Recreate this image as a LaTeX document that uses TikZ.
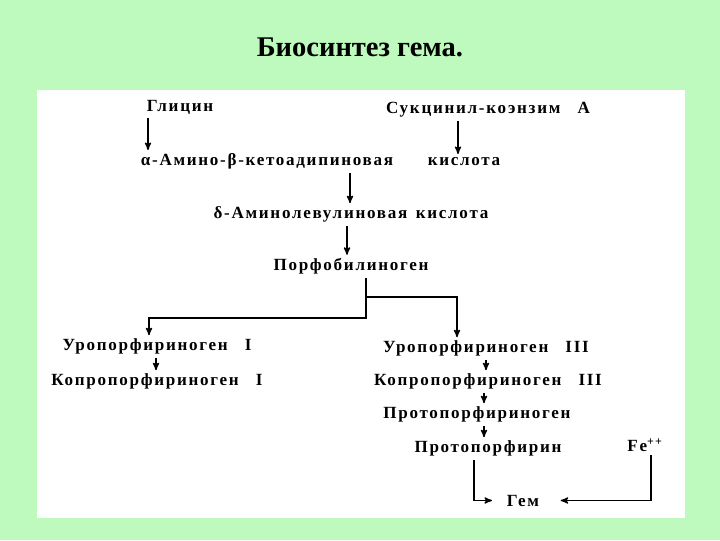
\documentclass[tikz,border=0pt]{standalone}
\usepackage{fontspec}
\setmainfont{Liberation Serif}
\newfontfamily\scanfont[LetterSpace=10]{Liberation Serif}
\usetikzlibrary{arrows}
\definecolor{slidegreen}{RGB}{190,250,190}

\tikzset{
	lbl/.style = {inner sep = 0pt, anchor = base, font = \scanfont\bfseries\fontsize{12.8}{14}\selectfont},
	flow/.style = {->, >=stealth', line width = 1pt, shorten <= 3pt, shorten >= 2pt},
	branch/.style = {->, >=stealth', line width = 1pt, shorten >= 2pt}
}

\begin{document}
\begin{tikzpicture}[x = 0.75pt, y = -0.75pt]
	\fill[slidegreen] (0,0) rectangle (720,540);
	\fill[white] (37,90) rectangle (685,518);
	
	\node[anchor = base, font = \bfseries\fontsize{21.4}{24}\selectfont] (title) at (360,56) {Биосинтез гема.};
	
	\node[lbl] (gly) at (180,111) {Глицин};
	\node[lbl] (suc) at (488,113) {Сукцинил-коэнзим\quad А};
	\node[lbl] (ami) at (267,165) {α-Амино-β-кетоадипиновая};
	\node[lbl] (kis) at (464,165) {кислота};
	\node[lbl] (ala) at (351,218) {δ-Аминолевулиновая\enspace кислота};
	\node[lbl] (pbg) at (351,270) {Порфобилиноген};
	\node[lbl] (uro1) at (157,350) {Уропорфириноген\quad I};
	\node[lbl] (uro3) at (486,352) {Уропорфириноген\quad III};
	\node[lbl] (kop1) at (157,385) {Копропорфириноген\quad I};
	\node[lbl] (kop3) at (488,385) {Копропорфириноген\quad III};
	\node[lbl] (ppg) at (477,418) {Протопорфириноген};
	\node[lbl] (ppn) at (488,452) {Протопорфирин};
	\node[lbl] (fe) at (645,451) {Fe\textsuperscript{++}};
	\node[lbl] (hem) at (523,506) {Гем};
	
	\draw[flow] (gly.south -| 148,0) -- (ami.north -| 148,0);
	\draw[flow] (suc.south -| 458,0) -- (kis.north -| 458,0);
	\draw[flow] (ami.south -| 350,0) -- (ala.north -| 350,0);
	\draw[flow] (ala.south -| 347,0) -- (pbg.north -| 347,0);
	
	\draw[flow] (pbg.south -| 366,0) |- (149,318) -- (uro1.north -| 149,0);
	\draw[branch] (366,297) -| (uro3.north -| 457,0);
	
	\draw[flow] (uro1.south -| 156,0) -- (kop1.north -| 156,0);
	\draw[flow] (uro3.south -| 486,0) -- (kop3.north -| 486,0);
	\draw[flow] (kop3.south -| 484,0) -- (ppg.north -| 484,0);
	\draw[flow] (ppg.south -| 484,0) -- (ppn.north -| 484,0);
	
	\draw[flow, shorten >= 11pt] (ppn.south -| 474,0) |- (hem.west);
	\draw[flow, shorten >= 16pt] (fe.south -| 651,0) |- (hem.east);
	
\end{tikzpicture}
\end{document}
